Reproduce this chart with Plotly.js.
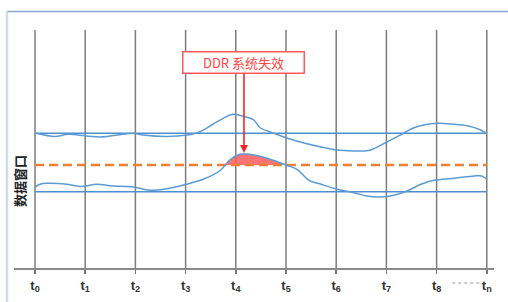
<!DOCTYPE html>
<html><head><meta charset="utf-8">
<script src="https://cdn.plot.ly/plotly-3.0.1.min.js"></script>
<style>html,body{margin:0;padding:0;background:#fff}#chart{width:508px;height:302px}</style>
</head><body><div id="chart"></div>
<script>
// Time markers (t0 ... t8, tn)
var tickPos = [0,1,2,3,4,5,6,7,8,9];
var tickSub = ["0","1","2","3","4","5","6","7","8","n"];

// Window bounds and threshold
var upperBound = 134.7;
var lowerBound = 76.3;
var failLevel = 103;

// Upper edge of the data window
var upperX = [0,0.40,0.66,1.29,1.95,2.15,2.63,3.03,3.29,3.63,3.94,4.18,4.36,4.48,4.76,5.00,5.36,5.70,6.02,6.35,6.55,6.69,7.01,7.35,7.55,8.01,8.35,8.61,8.88,9.00];
var upperY = [135,131.5,133.7,131,134.7,133,131.5,133,136.3,146.3,153.7,151.3,148,140.5,134.7,130.3,125,121,118,117,117,118,126,135,140.3,144.7,143.7,142.3,138,134.3];

// Lower edge of the data window
var lowerX = [0,0.10,0.23,0.63,0.90,1.23,1.55,1.95,2.29,2.63,3.02,3.35,3.69,3.88,4.08,4.22,4.50,4.76,5.00,5.22,5.46,5.70,6.02,6.35,6.61,6.89,7.15,7.41,7.69,7.95,8.35,8.75,8.90,9.00];
var lowerY = [81,83.7,84.7,83.7,81.5,83.7,82,81,77.7,79.3,83.7,88.7,97.5,108,113.7,114,111.5,107.5,103,98.7,87.7,83.7,78.7,75.3,72,71,72.7,77,83.7,87.7,89.7,92,92,88.7];

var annoText = "DDR 系统失效";
var yTitle = "数据窗口";

// failure region: part of lower curve above failLevel
var fx = [], fy = [];
for (var i = 0; i < lowerX.length - 1; i++) {
  var y0 = lowerY[i], y1 = lowerY[i+1];
  if (y0 <= failLevel && y1 > failLevel) {
    var t = (failLevel - y0) / (y1 - y0);
    fx.push(lowerX[i] + t*(lowerX[i+1]-lowerX[i])); fy.push(failLevel);
  }
  if (y1 > failLevel) { fx.push(lowerX[i+1]); fy.push(y1); }
  if (y0 > failLevel && y1 <= failLevel) {
    var t2 = (y0 - failLevel) / (y0 - y1);
    fx.push(lowerX[i] + t2*(lowerX[i+1]-lowerX[i])); fy.push(failLevel);
  }
}

var first = tickPos[0], last = tickPos[tickPos.length-1];
var blue = "#5b9bd5";

var traces = [
  {x: fx, y: fy, mode: "lines", fill: "toself", fillcolor: "rgba(250,90,90,0.85)", line: {width: 0, shape: "spline"}, hoverinfo: "skip"},
  {x: [first,last], y: [upperBound,upperBound], mode: "lines", line: {color: "#4f8fd0", width: 1.6}},
  {x: [first,last], y: [lowerBound,lowerBound], mode: "lines", line: {color: "#4f8fd0", width: 1.6}},
  {x: [first,last], y: [failLevel,failLevel], mode: "lines", line: {color: "#f0802e", width: 2.6, dash: "9px,5px"}},
  {x: upperX, y: upperY, mode: "lines", line: {color: blue, width: 1.5, shape: "spline", smoothing: 0.9}},
  {x: lowerX, y: lowerY, mode: "lines", line: {color: blue, width: 1.5, shape: "spline", smoothing: 0.9}}
];

var shapes = tickPos.map(function(p){
  return {type: "line", xref: "x", yref: "paper", x0: p, x1: p, y0: 0, y1: 1, line: {color: "#7d7d7d", width: 1.5}, layer: "below"};
});
// dotted ellipsis between t8 and tn
shapes.push({type: "line", xref: "x", yref: "paper", x0: 8.31, x1: 8.87, y0: -0.063, y1: -0.063, line: {color: "#9a9a9a", width: 1.2, dash: "dot"}});
// frame
shapes.push({type: "line", xref: "paper", yref: "paper", x0: -0.0146, x1: 1.03, y0: 1.078, y1: 1.078, line: {color: "#8aa6c8", width: 1.5}});
shapes.push({type: "line", xref: "paper", yref: "paper", x0: -0.0146, x1: -0.0146, y0: 1.078, y1: -0.15, line: {color: "#cfdcee", width: 2.5}});

var layout = {
  width: 508, height: 302,
  margin: {l: 14, r: 14, t: 30, b: 34},
  paper_bgcolor: "#fff", plot_bgcolor: "#fff",
  showlegend: false,
  xaxis: {
    range: [-0.4183, 9.1434], showgrid: false, zeroline: false,
    showline: true, linecolor: "#8a8a8a", linewidth: 2,
    ticks: "outside", ticklen: 4, tickwidth: 1.5, tickcolor: "#777",
    tickmode: "array", tickvals: tickPos,
    ticktext: tickSub.map(function(s){ return "<b>t</b><sub><b>" + s + "</b></sub>"; }),
    tickfont: {family: "Liberation Sans, Arial, sans-serif", size: 13, color: "#333"}
  },
  yaxis: {range: [0, 238], showgrid: false, zeroline: false, showline: false, showticklabels: false, ticks: ""},
  shapes: shapes,
  annotations: [
    {x: 4.163, y: 115, xref: "x", yref: "y", ax: 0, ay: -90.5, text: annoText,
     showarrow: true, arrowhead: 2, arrowsize: 1, arrowwidth: 1.6, arrowcolor: "#f02828",
     font: {family: "Noto Sans CJK SC, sans-serif", size: 13, color: "#ff4545"},
     bgcolor: "#fff", bordercolor: "#ff5a5a", borderwidth: 1.5, borderpad: 2, width: 116, height: 16},
    {x: 0.0125, y: 0.366, xref: "paper", yref: "paper", xanchor: "center", yanchor: "middle", showarrow: false, textangle: -90,
     text: "<b>" + yTitle + "</b>", font: {family: "Noto Sans CJK SC, sans-serif", size: 13, color: "#222"}}
  ]
};

Plotly.newPlot("chart", traces, layout, {staticPlot: true, displayModeBar: false});
</script></body></html>
